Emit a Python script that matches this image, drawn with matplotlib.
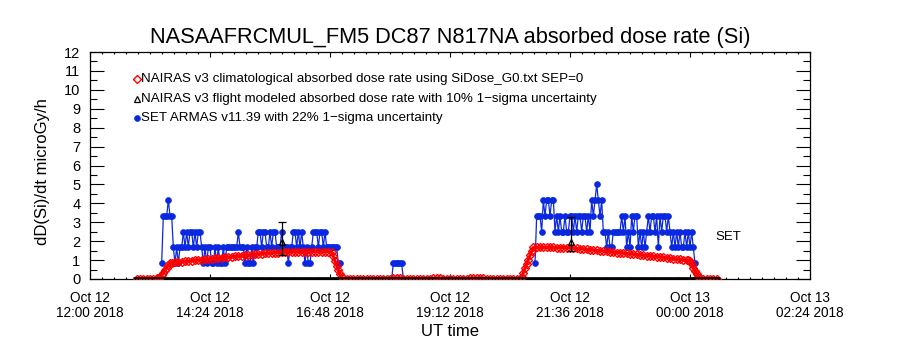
import matplotlib
matplotlib.use("Agg")
import matplotlib.pyplot as plt
import matplotlib.dates as mdates
from matplotlib import font_manager
from matplotlib.ticker import FixedLocator, MultipleLocator
import numpy as np
from datetime import datetime, timedelta


def pick_font(cands):
    for c in cands:
        try:
            font_manager.findfont(font_manager.FontProperties(family=c),
                                  fallback_to_default=False)
            return c
        except Exception:
            pass
    return "DejaVu Sans"


FONT = pick_font(["Liberation Sans Narrow", "Liberation Sans", "DejaVu Sans"])
plt.rcParams['font.family'] = [FONT, 'DejaVu Sans']

# ---------------- data ----------------
title = "NASAAFRCMUL_FM5 DC87 N817NA absorbed dose rate (Si)"
ylabel = "dD(Si)/dt microGy/h"
xlabel = "UT time"
legend_labels = [
    "NAIRAS v3 climatological absorbed dose rate using SiDose_G0.txt SEP=0",
    "NAIRAS v3 flight modeled absorbed dose rate with 10% 1\u2212sigma uncertainty",
    "SET ARMAS v11.39 with 22% 1\u2212sigma uncertainty",
]
x_start = "2018-10-12 12:00"
x_end = "2018-10-13 02:24"
xtick_times = ["2018-10-12 12:00", "2018-10-12 14:24", "2018-10-12 16:48",
               "2018-10-12 19:12", "2018-10-12 21:36", "2018-10-13 00:00",
               "2018-10-13 02:24"]
xtick_labels = ["Oct 12\n12:00 2018", "Oct 12\n14:24 2018", "Oct 12\n16:48 2018",
                "Oct 12\n19:12 2018", "Oct 12\n21:36 2018", "Oct 13\n00:00 2018",
                "Oct 13\n02:24 2018"]
ytick_values = [0, 1, 2, 3, 4, 5, 6, 7, 8, 9, 10, 11, 12]

# NAIRAS climatological (red): segments (start, step in minutes, values)
red_ground1_start, red_ground1_step = "2018-10-12 12:56", 4
red_ground1 = [0.02, 0.02, 0.02, 0.02, 0.02, 0.02, 0.03]
red_climb1_start, red_climb1_step = "2018-10-12 13:22", 2
red_climb1 = [0.05, 0.08, 0.2, 0.33, 0.47, 0.6, 0.72, 0.82]
red_cruise1_start, red_cruise1_step = "2018-10-12 13:38", 4
red_cruise1 = [0.86, 0.88, 0.90, 0.92, 0.93, 0.95, 0.97, 0.99, 1.01, 1.02,
               1.04, 1.06, 1.07, 1.09, 1.11, 1.12, 1.14, 1.16, 1.18, 1.20,
               1.22, 1.23, 1.25, 1.27, 1.29, 1.31, 1.33, 1.34, 1.36, 1.37,
               1.38, 1.39, 1.40, 1.41, 1.42, 1.42, 1.43, 1.44, 1.44, 1.44,
               1.44, 1.45, 1.45, 1.45, 1.45, 1.45, 1.45, 1.45, 1.45]
red_descent1_start, red_descent1_step = "2018-10-12 16:52", 2
red_descent1 = [1.2, 0.95, 0.7, 0.45, 0.25, 0.1, 0.03]
red_ground2_start, red_ground2_step = "2018-10-12 17:08", 4
red_ground2 = [0.01, 0.01, 0.01, 0.01, 0.01, 0.01, 0.01, 0.01, 0.01, 0.01,
               0.01, 0.01, 0.01, 0.01, 0.05, 0.05, 0.05, 0.01, 0.01, 0.01,
               0.01, 0.01, 0.01, 0.01, 0.01, 0.01, 0.05, 0.05, 0.05, 0.01,
               0.01, 0.01, 0.01, 0.01, 0.01, 0.01, 0.01, 0.05, 0.05, 0.05,
               0.05, 0.05, 0.01, 0.01, 0.01, 0.01, 0.01, 0.01, 0.01, 0.01,
               0.01, 0.01, 0.02]
red_climb2_start, red_climb2_step = "2018-10-12 20:38", 2
red_climb2 = [0.1, 0.33, 0.57, 0.8, 1.03, 1.27, 1.5, 1.67]
red_cruise2_start, red_cruise2_step = "2018-10-12 20:56", 4
red_cruise2 = [1.67, 1.67, 1.67, 1.67, 1.67, 1.67, 1.66, 1.66, 1.66, 1.66,
               1.65, 1.64, 1.62, 1.60, 1.59, 1.57, 1.55, 1.53, 1.51, 1.49,
               1.48, 1.46, 1.44, 1.42, 1.40, 1.39, 1.37, 1.35, 1.33, 1.32,
               1.30, 1.28, 1.26, 1.24, 1.22, 1.20, 1.18, 1.16, 1.14, 1.12,
               1.10, 1.08, 1.06, 1.04, 1.02, 1.00]
red_descent2_start, red_descent2_step = "2018-10-12 23:58", 2
red_descent2 = [0.98, 0.96, 0.8, 0.6, 0.42, 0.25, 0.12, 0.04]
red_ground3_start, red_ground3_step = "2018-10-13 00:16", 4
red_ground3 = [0.02, 0.02, 0.02, 0.02, 0.02]

# NAIRAS flight modeled (black): ground level trace and two error-bar points
black_line_times = ["2018-10-12 12:52", "2018-10-13 00:36"]
black_line_values = [0.0, 0.0]
black_err_times = ["2018-10-12 15:50", "2018-10-12 21:37"]
black_err_values = [1.96, 1.95]
black_err_low = [1.26, 1.47]
black_err_high = [3.00, 3.28]

# SET ARMAS (blue): segments (start, step in minutes, values)
set_flight1_start, set_flight1_step = "2018-10-12 13:26", 2
set_flight1 = [0.83, 3.33, 3.33, 3.33, 4.17, 3.33, 3.33, 1.67, 0.83, 1.67,
               0.83, 1.67, 1.67, 2.5, 1.67, 2.5, 1.67, 2.5, 2.5, 1.67,
               2.5, 1.67, 2.5, 2.5, 1.67, 0.83, 1.67, 0.83, 1.67, 1.67,
               0.83, 0.83, 1.67, 0.83, 1.67, 0.83, 0.83, 1.67, 0.83, 1.67,
               1.67, 1.67, 1.67, 1.67, 1.67, 1.67, 2.5, 1.67, 1.67, 1.67,
               0.83, 1.67, 0.83, 0.83, 1.67, 0.83, 1.67, 1.67, 2.5, 2.5,
               1.67, 2.5, 2.5, 1.67, 1.67, 2.5, 1.67, 2.5, 2.5, 1.67,
               1.67, 1.67, 2.5, 1.67, 1.67, 1.67, 0.83, 1.67, 1.67, 2.5,
               2.5, 1.67, 2.5, 1.67, 2.5, 1.67, 0.83, 1.67, 0.83, 0.83,
               1.67, 2.5, 2.5, 2.5, 1.67, 2.5, 2.5, 1.67, 2.5, 1.67,
               1.67, 1.67, 1.67, 1.67, 1.67, 1.67, 0.83, 0.83]
set_blip_start, set_blip_step = "2018-10-12 18:02", 2
set_blip = [0.0, 0.83, 0.83, 0.83, 0.83, 0.83, 0.83, 0.0]
set_flight2_start, set_flight2_step = "2018-10-12 20:54", 2
set_flight2 = [0.83, 3.33, 3.33, 3.33, 2.5, 4.17, 3.33, 4.17, 4.17, 3.33,
               4.17, 4.17, 2.5, 3.33, 2.5, 3.33, 2.5, 2.5, 3.33, 2.5,
               2.5, 3.33, 3.33, 2.5, 3.33, 2.5, 3.33, 3.33, 2.5, 3.33,
               3.33, 2.5, 3.33, 2.5, 4.17, 3.33, 4.17, 5.0, 4.17, 3.33,
               4.17, 2.5, 2.5, 1.67, 2.5, 1.67, 1.67, 2.5, 2.5, 2.5,
               2.5, 2.5, 3.33, 2.5, 3.33, 1.67, 2.5, 1.67, 3.33, 2.5,
               3.33, 3.33, 1.67, 2.5, 1.67, 2.5, 1.67, 2.5, 3.33, 2.5,
               3.33, 3.33, 2.5, 3.33, 1.67, 3.33, 2.5, 3.33, 3.33, 2.5,
               3.33, 2.5, 1.67, 2.5, 1.67, 2.5, 1.67, 2.5, 1.67, 1.67,
               2.5, 1.67, 2.5, 1.67, 2.5, 1.67, 0.83]

set_label_time, set_label_value, set_label_text = "2018-10-13 00:30", 2.2, "SET"

# ---------------- helpers ----------------
FMT = "%Y-%m-%d %H:%M"


def tnum(s):
    return mdates.date2num(datetime.strptime(s, FMT))


def seg_times(start, step, n):
    t0 = datetime.strptime(start, FMT)
    return [mdates.date2num(t0 + timedelta(minutes=step * i)) for i in range(n)]


def build(segments, gap=False):
    xs, ys = [], []
    for start, step, vals in segments:
        xs += seg_times(start, step, len(vals))
        ys += list(vals)
        if gap:
            xs.append(np.nan)
            ys.append(np.nan)
    return np.array(xs), np.array(ys)


red_x, red_y = build([
    (red_ground1_start, red_ground1_step, red_ground1),
    (red_climb1_start, red_climb1_step, red_climb1),
    (red_cruise1_start, red_cruise1_step, red_cruise1),
    (red_descent1_start, red_descent1_step, red_descent1),
    (red_ground2_start, red_ground2_step, red_ground2),
    (red_climb2_start, red_climb2_step, red_climb2),
    (red_cruise2_start, red_cruise2_step, red_cruise2),
    (red_descent2_start, red_descent2_step, red_descent2),
    (red_ground3_start, red_ground3_step, red_ground3),
])
set_x, set_y = build([
    (set_flight1_start, set_flight1_step, set_flight1),
    (set_blip_start, set_blip_step, set_blip),
    (set_flight2_start, set_flight2_step, set_flight2),
], gap=True)

# ---------------- figure ----------------
BLUE = "#0a28e0"
RED = "#ff0000"
fig = plt.figure(figsize=(9, 3.5), dpi=100)
ax = fig.add_axes([90 / 900, 1 - 279 / 350, 720 / 900, 227 / 350])

ax.plot(set_x, set_y, '-', color=BLUE, lw=0.9, marker='o', ms=4.2,
        mfc=BLUE, mec=BLUE, mew=0.5, zorder=2)
ax.plot(red_x, red_y, '-', color=RED, lw=2.2, marker='D', ms=3.6,
        mfc='none', mec=RED, mew=1.0, zorder=3)
ax.plot([tnum(s) for s in black_line_times], black_line_values, '-',
        color='black', lw=3.4, solid_capstyle='butt', zorder=4)
ex = [tnum(s) for s in black_err_times]
ev = np.array(black_err_values)
yerr = np.array([ev - np.array(black_err_low), np.array(black_err_high) - ev])
ax.errorbar(ex, ev, yerr=yerr, fmt='^', color='black', mfc='none', mec='black',
            ms=5, mew=0.9, elinewidth=0.9, capsize=3, capthick=0.9, zorder=5)

ax.text(tnum(set_label_time), set_label_value, set_label_text, fontsize=9.5,
        ha='left', va='center', color='black')

ax.set_xlim(tnum(x_start), tnum(x_end))
ax.set_ylim(0, 12)
ax.xaxis.set_major_locator(FixedLocator([tnum(s) for s in xtick_times]))
ax.set_xticklabels(xtick_labels, fontsize=9.8, linespacing=1.05)
ax.xaxis.set_minor_locator(MultipleLocator(0.24 / 24))
ax.set_yticks(ytick_values)
ax.set_yticklabels([str(v) for v in ytick_values], fontsize=10.5)
ax.yaxis.set_minor_locator(MultipleLocator(0.5))
ax.tick_params(axis='both', which='both', direction='in', top=True, right=True,
               width=0.8, color='black')
ax.tick_params(axis='y', which='major', length=10.4, pad=7)
ax.tick_params(axis='y', which='minor', length=5.2)
ax.tick_params(axis='x', which='major', length=3.3, pad=9)
ax.tick_params(axis='x', which='minor', length=1.7)
for sp in ax.spines.values():
    sp.set_linewidth(0.9)

# legend (manual, in axes coordinates)
leg_x = (137 - 90) / 720
leg_rows = [79, 99, 118]
leg_styles = [dict(marker='D', mfc='none', mec=RED, ms=3.6, mew=1.0),
              dict(marker='^', mfc='none', mec='black', ms=4.5, mew=0.9),
              dict(marker='o', mfc=BLUE, mec=BLUE, ms=4.2, mew=0.5)]
for row, lab, st in zip(leg_rows, legend_labels, leg_styles):
    yy = (279 - row) / 227
    ax.plot([leg_x], [yy], transform=ax.transAxes, ls='none', clip_on=False, **st)
    ax.text(leg_x + 4 / 720, yy, lab, transform=ax.transAxes, fontsize=9.6,
            ha='left', va='center')

fig.text(0.5, 1 - 38 / 350, title, ha='center', va='center', fontsize=15.7)
fig.text(43 / 900, 1 - 172 / 350, ylabel, ha='center', va='center',
         rotation=90, fontsize=12)
fig.text(450 / 900, 1 - 331 / 350, xlabel, ha='center', va='center', fontsize=12)

fig.savefig("out.png", dpi=100, facecolor='white')
